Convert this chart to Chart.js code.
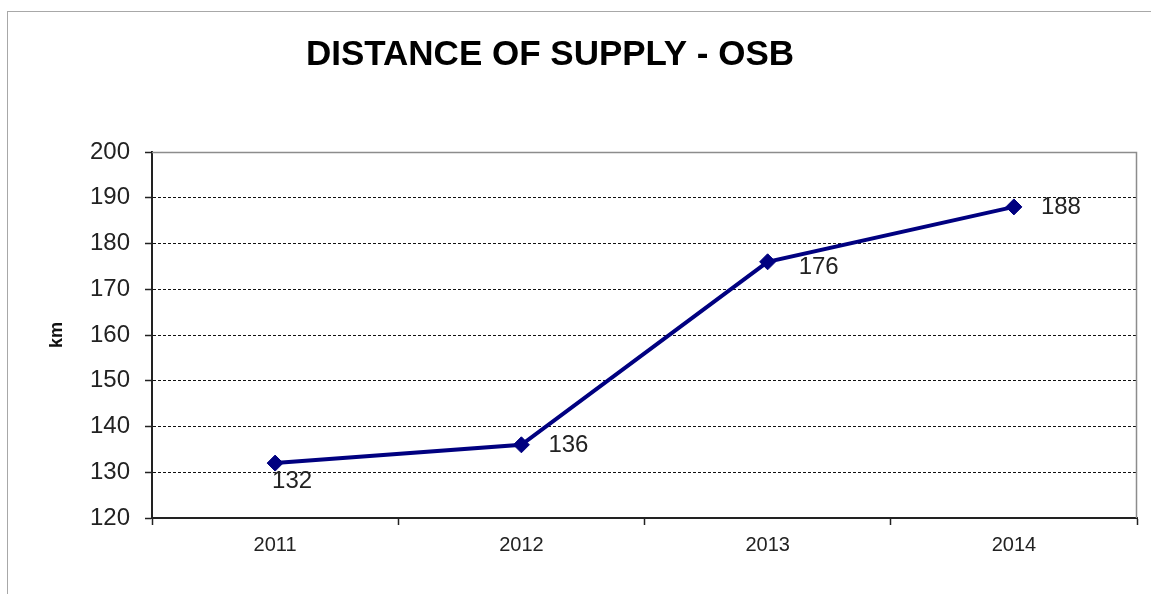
<!DOCTYPE html>
<html>
<head>
<meta charset="utf-8">
<title>Distance of supply - OSB</title>
<script src="https://cdn.jsdelivr.net/npm/chart.js@4.4.1/dist/chart.umd.min.js"></script>
<style>
  body { margin: 0; background: #fff; }
  canvas { display: block; }
</style>
</head>
<body>
<canvas id="supplyChart" width="1151" height="594"></canvas>
<script>
// supply distance per year, in km
const years = ["2011", "2012", "2013", "2014"];
const distanceKm = [132, 136, 176, 188];
const yTickValues = [120, 130, 140, 150, 160, 170, 180, 190, 200];

// where each value label sits relative to its point: [dx, dy, textAlign]
const labelPlacement = [
  [17, 18, "center"],
  [27, 1, "left"],
  [31, 6, "left"],
  [27, 0, "left"]
];

const FONT = "Arial, 'Liberation Sans', sans-serif";
const NAVY = "#000080";

const frame = {
  id: "frame",
  beforeDraw(chart) {
    const { ctx, width, height } = chart;
    ctx.save();
    ctx.fillStyle = "#fff";
    ctx.fillRect(0, 0, width, height);
    ctx.strokeStyle = "#a8a8a8";
    ctx.lineWidth = 1;
    ctx.strokeRect(7.5, 11.5, width + 20, height + 20);
    ctx.restore();
  },
  beforeDatasetsDraw(chart) {
    // light top and right edges of the plot area
    const { ctx, chartArea: a } = chart;
    ctx.save();
    ctx.strokeStyle = "#8c8c8c";
    ctx.lineWidth = 1.5;
    ctx.beginPath();
    ctx.moveTo(a.left, a.top + 0.5);
    ctx.lineTo(a.right - 0.5, a.top + 0.5);
    ctx.lineTo(a.right - 0.5, a.bottom);
    ctx.stroke();
    ctx.restore();
  },
  afterDraw(chart) {
    const { ctx } = chart;
    ctx.save();
    ctx.fillStyle = "#000";
    ctx.font = "bold 35px " + FONT;
    ctx.textAlign = "center";
    ctx.textBaseline = "middle";
    ctx.fillText("DISTANCE OF SUPPLY - OSB", 550, 55);

    // value labels next to the markers
    const meta = chart.getDatasetMeta(0);
    ctx.font = "24px " + FONT;
    ctx.fillStyle = "#222";
    meta.data.forEach((pt, i) => {
      const [dx, dy, align] = labelPlacement[i];
      ctx.textAlign = align;
      ctx.fillText(String(distanceKm[i]), pt.x + dx, pt.y + dy);
    });
    ctx.restore();
  }
};

new Chart(document.getElementById("supplyChart"), {
  type: "line",
  data: {
    labels: years,
    datasets: [{
      label: "km",
      data: distanceKm,
      borderColor: NAVY,
      borderWidth: 4,
      tension: 0,
      pointStyle: "rectRot",
      pointRadius: 8,
      pointBackgroundColor: NAVY,
      pointBorderColor: NAVY,
      pointBorderWidth: 1
    }]
  },
  options: {
    responsive: false,
    animation: false,
    layout: { padding: { top: 152, right: 14, bottom: 0, left: 0 } },
    plugins: {
      legend: { display: false },
      tooltip: { enabled: false }
    },
    scales: {
      x: {
        offset: true,
        border: { color: "#222", width: 2 },
        grid: {
          offset: true,
          drawOnChartArea: false,
          tickLength: 7,
          tickColor: "#222",
          tickWidth: 1.5
        },
        ticks: { color: "#222", font: { family: FONT, size: 20 }, padding: 8 },
        afterFit(scale) { scale.height = 76; }
      },
      y: {
        min: 120,
        max: 200,
        // in v4 border.dash sets the dash of the grid lines
        border: { color: "#222", width: 2, dash: [3, 2] },
        grid: {
          color: c => (c.tick && (c.tick.value === 120 || c.tick.value === 200)) ? "rgba(0,0,0,0)" : "#111",
          lineWidth: 1,
          tickLength: 7,
          tickColor: "#222",
          tickWidth: 1.5,
          tickBorderDash: []
        },
        ticks: { color: "#222", font: { family: FONT, size: 24 }, padding: 15 },
        afterBuildTicks(scale) {
          scale.ticks = yTickValues.map(v => ({ value: v }));
        },
        title: {
          display: true,
          text: "km",
          color: "#111",
          font: { family: FONT, size: 18, weight: "bold" },
          padding: { top: 46, bottom: 0 }
        },
        afterFit(scale) { scale.width = 152; }
      }
    }
  },
  plugins: [frame]
});
</script>
</body>
</html>
